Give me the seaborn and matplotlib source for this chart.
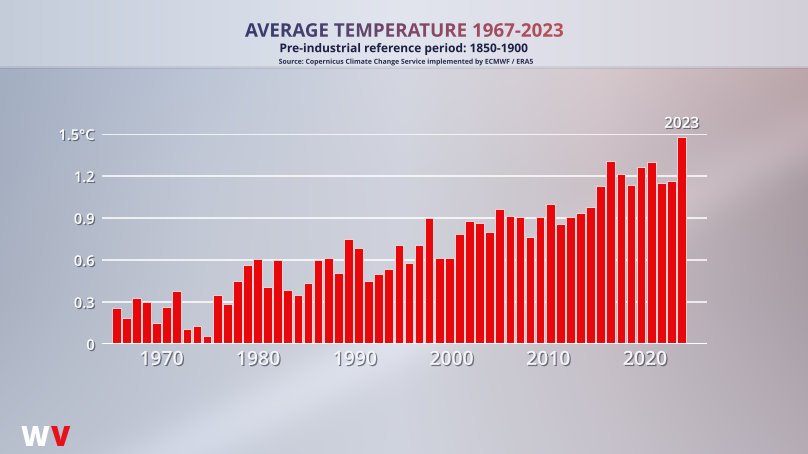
import numpy as np
import pandas as pd
import matplotlib
matplotlib.use("Agg")
import matplotlib.pyplot as plt
import seaborn as sns
from matplotlib.textpath import TextPath
from matplotlib.patches import PathPatch
from matplotlib.font_manager import FontProperties
from matplotlib.transforms import Affine2D
from matplotlib.colors import LinearSegmentedColormap
import matplotlib.patheffects as pe

# ---------------- data ----------------
years = list(range(1967, 2024))
anomaly = [0.26, 0.19, 0.33, 0.30, 0.15, 0.27, 0.38, 0.11, 0.13, 0.06,
           0.35, 0.29, 0.45, 0.57, 0.61, 0.41, 0.60, 0.39, 0.35, 0.44,
           0.60, 0.62, 0.51, 0.75, 0.69, 0.45, 0.50, 0.54, 0.71, 0.58,
           0.71, 0.90, 0.62, 0.62, 0.79, 0.88, 0.87, 0.80, 0.97, 0.92,
           0.91, 0.77, 0.91, 1.00, 0.86, 0.91, 0.94, 0.98, 1.13, 1.31,
           1.22, 1.14, 1.27, 1.30, 1.15, 1.17, 1.48]
ytick_values = [0, 0.3, 0.6, 0.9, 1.2, 1.5]
ytick_labels = ["0", "0.3", "0.6", "0.9", "1.2", "1.5°C"]
xtick_labels = ["1970", "1980", "1990", "2000", "2010", "2020"]
title = "AVERAGE TEMPERATURE 1967-2023"
subtitle = "Pre-industrial reference period: 1850-1900"
source = "Source: Copernicus Climate Change Service implemented by ECMWF / ERA5"
highlight = "2023"

df = pd.DataFrame({"year": years, "anomaly": anomaly})

W, H = 808, 454
fig = plt.figure(figsize=(W / 100, H / 100), dpi=100)

# ---------------- background ----------------
bgax = fig.add_axes([0, 0, 1, 1], zorder=-5)
bgax.set_axis_off()

def hexrgb(h):
    h = h.lstrip("#")
    return np.array([int(h[i:i + 2], 16) for i in (0, 2, 4)]) / 255.0

ctrl_x = np.array([0, 200, 400, 600, 808])
ctrl_y = np.array([68, 180, 300, 454])
ctrl = np.array([
    [hexrgb(c) for c in ["#a3aec2", "#bcc5d6", "#d4d7e1", "#d6c9ce", "#bba6ab"]],
    [hexrgb(c) for c in ["#a6afc1", "#c2c8d5", "#d0d3dd", "#cbc0c6", "#a89aa1"]],
    [hexrgb(c) for c in ["#aab2c2", "#c4c9d5", "#cfd2dc", "#c6bec6", "#a99ea6"]],
    [hexrgb(c) for c in ["#b8bfcd", "#c3c9d6", "#d0d4de", "#c7c3cc", "#b5acb6"]],
])
xs = np.arange(W)
ys = np.arange(H)
img = np.zeros((H, W, 3))
rows = np.stack([np.stack([np.interp(xs, ctrl_x, ctrl[r, :, c]) for c in range(3)], -1)
                 for r in range(len(ctrl_y))])
for c in range(3):
    for xi in range(W):
        img[:, xi, c] = np.interp(ys, ctrl_y, rows[:, xi, c])
band_x = np.array([0, 250, 404, 600, 808])
band_cols = np.array([hexrgb(c) for c in ["#c4ccda", "#d6dce7", "#e2e5ee", "#dcdce5", "#d3cfd8"]])
band = np.stack([np.interp(xs, band_x, band_cols[:, c]) for c in range(3)], -1)
img[:68, :, :] = band[None, :, :]
img[66:69, :, :] *= 0.93
yy, xx = np.mgrid[0:H, 0:W]
d = np.abs((xx - 420) * 0.45 + (yy - 330) * 0.9)
img += (0.06 * np.exp(-(d / 30.0) ** 2) * (yy > 68))[..., None]
img = np.clip(img, 0, 1)
bgax.imshow(img, extent=(0, W, 0, H), aspect="auto", interpolation="bilinear")
bgax.set_xlim(0, W)
bgax.set_ylim(0, H)


def fitted_text(s, cx, cy_top, width, weight="bold", family="Open Sans",
                color=None, gradient=None):
    fp = FontProperties(family=family, weight=weight)
    tp = TextPath((0, 0), s, size=100, prop=fp)
    ext = tp.get_extents()
    sc = width / ext.width
    cy = H - cy_top
    tr = (Affine2D().translate(-ext.x0 - ext.width / 2, -ext.y0 - ext.height / 2)
          .scale(sc).translate(cx, cy))
    path = tr.transform_path(tp)
    if gradient is None:
        bgax.add_patch(PathPatch(path, facecolor=color, edgecolor="none",
                                 transform=bgax.transData))
    else:
        patch = PathPatch(path, facecolor="none", edgecolor="none",
                          transform=bgax.transData)
        bgax.add_patch(patch)
        cmap = LinearSegmentedColormap.from_list("g", gradient)
        bb = path.get_extents()
        im = bgax.imshow(np.linspace(0, 1, 256)[None, :], cmap=cmap,
                         extent=(bb.x0, bb.x1, bb.y0, bb.y1), aspect="auto")
        im.set_clip_path(patch)


fitted_text(title, 404, 30, 318,
            gradient=["#353a6a", "#4a4270", "#7a4868", "#a04c5e", "#b85058"])
fitted_text(subtitle, 404, 49, 247, color="#1d2044")
fitted_text(source, 406, 62, 254, color="#262a4a")
bgax.set_xlim(0, W)
bgax.set_ylim(0, H)

# ---------------- bars ----------------
left_px, right_px = 101.7, 706.7
bottom_px, top_px = 344.3, 134.3
ax = fig.add_axes([left_px / W, (H - bottom_px) / H,
                   (right_px - left_px) / W, (bottom_px - top_px) / H])
ax.set_facecolor("none")
sns.barplot(data=df, x="year", y="anomaly", color="#e8080c", saturation=1,
            width=0.86, edgecolor="#f3d6d8", linewidth=0.7, ax=ax, zorder=3)
ax.set_xlim(-1.44, 58.5)
ax.set_ylim(0, 1.5)
for s in ax.spines.values():
    s.set_visible(False)
ax.set_xlabel("")
ax.set_ylabel("")
ax.set_yticks(ytick_values)
ax.set_yticklabels(ytick_labels)
ax.set_xticks(np.linspace(4.5, 52.4, len(xtick_labels)))
ax.set_xticklabels(xtick_labels)
ax.tick_params(length=0)
ax.tick_params(axis="y", pad=5)
ax.tick_params(axis="x", pad=4)
ax.set_axisbelow(True)
ax.yaxis.grid(True, color="white", linewidth=1.1, zorder=0)
ax.xaxis.grid(False)
ax.axhline(0, color="white", linewidth=2.2, zorder=4)

shadow = [pe.withSimplePatchShadow(offset=(0.9, -0.9), shadow_rgbFace="#3a3f50", alpha=0.65)]
for t in ax.get_yticklabels():
    t.set_fontfamily("Open Sans")
    t.set_fontweight("semibold")
    t.set_fontsize(10.5)
    t.set_color("white")
    t.set_path_effects(shadow)
for t in ax.get_xticklabels():
    t.set_fontfamily("Open Sans")
    t.set_fontweight("semibold")
    t.set_fontsize(14)
    t.set_color("#f4f4f6")
    t.set_path_effects(shadow)

last = len(years) - 1
ax.text(last, 1.575, highlight, ha="center", va="center", fontsize=11,
        fontfamily="Open Sans", fontweight="semibold", color="white",
        path_effects=shadow, clip_on=False)

# ---------------- logo ----------------
fig.text(21 / W, 1 / H, "W", fontsize=20, fontweight="heavy", fontfamily="Open Sans",
         color="white", ha="left", va="bottom")
fig.text(51 / W, 1 / H, "V", fontsize=20, fontweight="heavy", fontfamily="Open Sans",
         color="#e8101a", ha="left", va="bottom")

fig.savefig("out.png", dpi=100)
